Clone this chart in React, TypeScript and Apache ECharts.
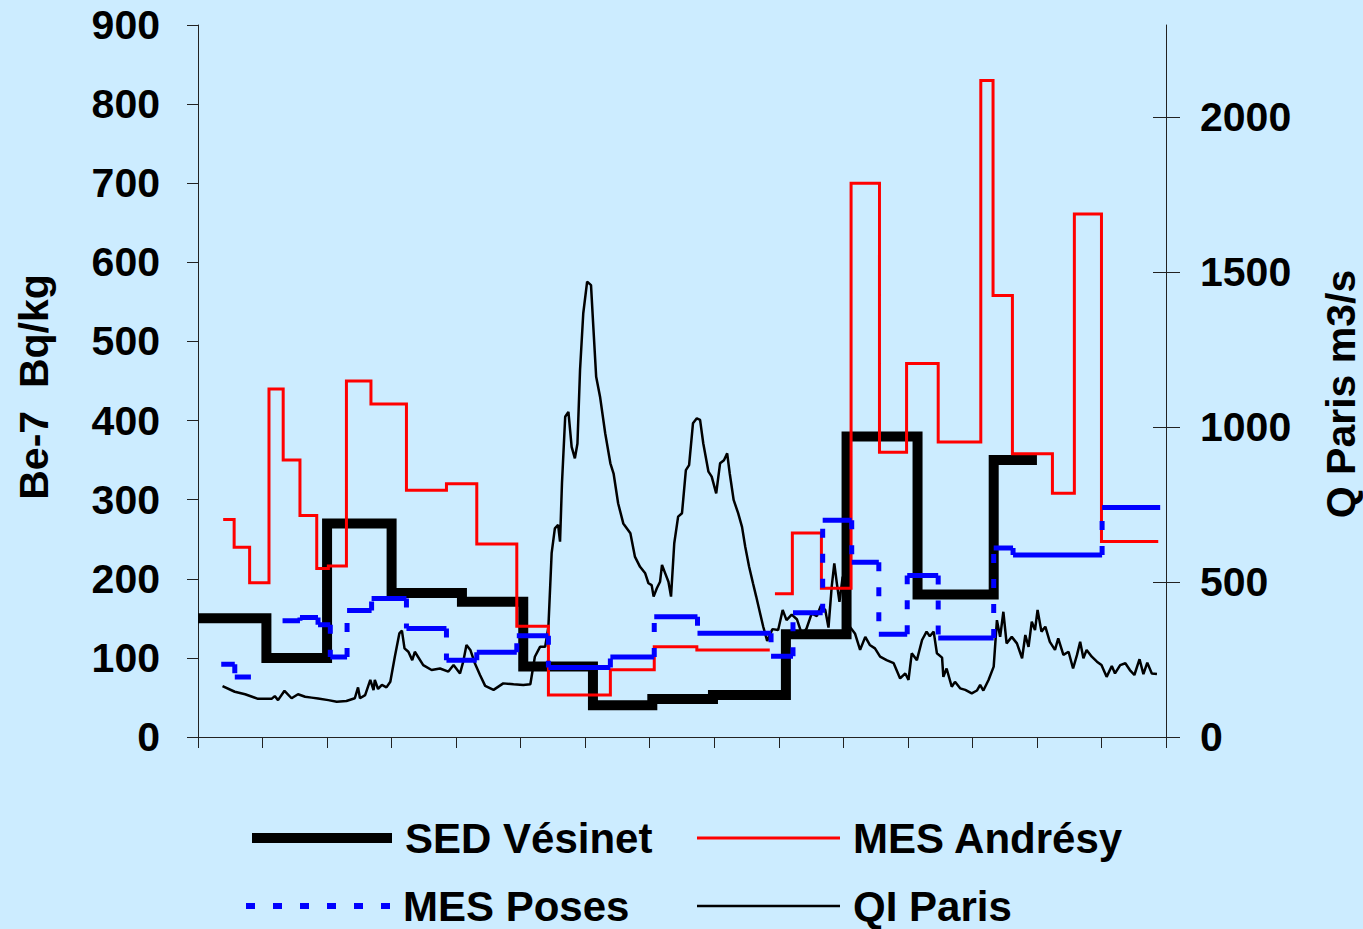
import React, { useEffect, useRef } from "react";
import * as echarts from "echarts";

// Steps: [start x (tick units), value]; value null = no line on that span / end.
const SED_VESINET: [number, number | null][] = [
  [0, 150], [1.06, 100], [2.0, 270], [3.0, 182], [4.09, 171], [5.04, 89],
  [6.12, 40], [7.04, 48], [7.98, 53], [9.11, 130], [10.05, 380], [11.15, 180],
  [12.33, 350], [13.0, null],
];

const MES_ANDRESY: [number, number | null][] = [
  [0.39, 275], [0.56, 240], [0.8, 195], [1.1, 440], [1.32, 350], [1.58, 280],
  [1.84, 213], [2.02, 216], [2.3, 450], [2.68, 421], [3.23, 312], [3.85, 320],
  [4.32, 244], [4.94, 140], [5.43, 53], [6.39, 85], [7.07, 114], [7.73, 110],
  [8.86, null], [8.94, 181], [9.21, 258], [9.66, 188], [10.12, 700], [10.56, 360],
  [10.98, 472], [11.47, 373], [12.13, 830], [12.32, 558], [12.62, 358], [13.24, 308],
  [13.58, 661], [14.0, 247], [14.88, null],
];

const MES_POSES: [number, number | null][] = [
  [0.36, 92], [0.57, 76], [0.82, null], [1.31, 147], [1.58, 151], [1.86, 142],
  [2.05, 101], [2.31, 160], [2.69, 175], [3.23, 137], [3.85, 97], [4.32, 107],
  [4.94, 128], [5.43, 88], [6.39, 101], [7.07, 152], [7.74, 131], [8.88, 102],
  [9.22, 157], [9.68, 274], [10.13, 221], [10.55, 130], [10.99, 204], [11.47, 125],
  [12.33, 239], [12.63, 230], [14.01, 290], [14.91, null],
];

const QI_PARIS: [number, number][] = [
  [0.38, 164], [0.57, 146], [0.73, 138], [0.93, 123], [1.14, 123], [1.19, 132], [1.24, 119],
  [1.34, 149], [1.45, 125], [1.55, 138], [1.66, 130], [1.76, 127], [1.86, 124], [2.02, 119],
  [2.15, 114], [2.3, 116], [2.43, 125], [2.48, 160], [2.51, 125], [2.59, 135], [2.67, 184],
  [2.72, 151], [2.74, 184], [2.79, 155], [2.85, 168], [2.92, 160], [2.98, 178], [3.05, 259],
  [3.12, 334], [3.16, 343], [3.2, 286], [3.26, 275], [3.32, 248], [3.36, 275], [3.49, 232],
  [3.62, 216], [3.75, 221], [3.88, 211], [3.96, 232], [4.06, 205], [4.11, 243], [4.16, 297],
  [4.22, 281], [4.29, 238], [4.37, 200], [4.45, 165], [4.58, 152], [4.73, 173], [4.89, 170],
  [5.04, 168], [5.15, 170], [5.22, 259], [5.3, 291], [5.38, 291], [5.43, 356], [5.48, 593],
  [5.53, 673], [5.58, 684], [5.61, 630], [5.64, 818], [5.69, 1033], [5.74, 1049], [5.79, 936],
  [5.84, 899], [5.88, 947], [5.92, 1184], [5.97, 1367], [6.03, 1469], [6.09, 1458], [6.12, 1345],
  [6.17, 1162], [6.23, 1098], [6.31, 980], [6.39, 883], [6.44, 850], [6.51, 754], [6.59, 689],
  [6.7, 657], [6.77, 582], [6.85, 549], [6.93, 528], [6.98, 496], [7.03, 490], [7.06, 453],
  [7.11, 480], [7.16, 501], [7.19, 555], [7.24, 528], [7.29, 501], [7.33, 453], [7.38, 625],
  [7.44, 711], [7.5, 722], [7.56, 861], [7.61, 877], [7.67, 1012], [7.73, 1028], [7.78, 1023],
  [7.83, 947], [7.91, 856], [7.96, 840], [8.03, 786], [8.09, 883], [8.15, 893], [8.2, 915],
  [8.24, 850], [8.3, 765], [8.37, 722], [8.43, 678], [8.48, 614], [8.54, 549], [8.6, 496],
  [8.65, 453], [8.71, 399], [8.76, 355], [8.82, 310], [8.9, 348], [8.99, 345], [9.06, 410],
  [9.12, 377], [9.2, 395], [9.28, 380], [9.36, 330], [9.43, 350], [9.51, 399], [9.59, 390],
  [9.65, 423], [9.72, 410], [9.77, 353], [9.82, 485], [9.86, 560], [9.9, 495], [9.94, 436],
  [9.99, 517], [10.04, 440], [10.1, 356], [10.18, 334], [10.26, 281], [10.34, 323], [10.41, 297],
  [10.49, 286], [10.57, 259], [10.67, 248], [10.78, 238], [10.88, 189], [10.96, 205], [11.01, 184],
  [11.06, 270], [11.14, 248], [11.22, 313], [11.29, 340], [11.34, 325], [11.4, 340], [11.45, 270],
  [11.53, 256], [11.55, 194], [11.6, 221], [11.68, 162], [11.73, 178], [11.81, 157], [11.89, 152],
  [11.99, 141], [12.07, 150], [12.12, 168], [12.17, 150], [12.25, 184], [12.33, 227], [12.38, 377],
  [12.43, 323], [12.48, 404], [12.53, 302], [12.61, 323], [12.69, 302], [12.77, 254], [12.82, 329],
  [12.87, 291], [12.92, 372], [12.97, 345], [13.01, 410], [13.07, 340], [13.13, 356], [13.2, 307],
  [13.28, 281], [13.33, 318], [13.41, 265], [13.49, 275], [13.56, 221], [13.62, 264], [13.67, 307],
  [13.72, 254], [13.77, 281], [13.85, 259], [13.93, 243], [14.0, 232], [14.08, 194], [14.16, 229],
  [14.21, 205], [14.29, 232], [14.37, 238], [14.44, 216], [14.51, 200], [14.59, 251], [14.65, 203],
  [14.71, 240], [14.78, 205], [14.86, 203],
];

const LEFT_TICKS = { min: 0, max: 900, interval: 100 };
const RIGHT_TICK_VALUES = [0, 500, 1000, 1500, 2000];
const RIGHT_MAX = 2297;
const X_TICKS = { min: 0, max: 15, interval: 1 };

const NAMES = {
  sed: "SED Vésinet",
  andresy: "MES Andrésy",
  poses: "MES Poses",
  qi: "QI Paris",
  left: "Be-7\u00a0 Bq/kg",
  right: "Q Paris m3/s",
};

type Step = [number, number | null];

function stepPath(steps: Step[]) {
  const out: any[] = [];
  for (let i = 0; i < steps.length - 1; i++) {
    const [x, v] = steps[i];
    const xn = steps[i + 1][0];
    if (v === null) {
      out.push([x, "-"]);
      continue;
    }
    out.push([x, v], [xn, v]);
  }
  return out;
}

function treads(steps: Step[]) {
  const out: any[] = [];
  for (let i = 0; i < steps.length - 1; i++) {
    const [x, v] = steps[i];
    const xn = steps[i + 1][0];
    if (v === null) continue;
    out.push([x, v], [xn, v], [xn, "-"]);
  }
  return out;
}

function risers(steps: Step[]) {
  const out: any[] = [];
  for (let i = 1; i < steps.length; i++) {
    const a = steps[i - 1][1];
    const b = steps[i][1];
    if (a === null || b === null) continue;
    const x = steps[i][0];
    out.push([x, a], [x, b], [x, "-"]);
  }
  return out;
}

const FONT = "'Liberation Sans', Arial, sans-serif";
const DASH_ICON =
  "path://M0,0h9v6h-9z M27,0h9v6h-9z M54,0h9v6h-9z M81,0h9v6h-9z M108,0h9v6h-9z M135,0h9v6h-9z";

export default function App() {
  const ref = useRef<HTMLDivElement>(null);

  useEffect(() => {
    if (!ref.current) return;
    const chart = echarts.init(ref.current, undefined, { renderer: "svg" });
    const axisLabelStyle = {
      fontFamily: FONT,
      fontWeight: "bold" as const,
      fontSize: 41,
      color: "#000",
    };
    const legendText = {
      fontFamily: FONT,
      fontWeight: "bold" as const,
      fontSize: 42,
      lineHeight: 42,
      color: "#000",
      padding: [0, 0, 0, 8],
    };
    const legendCommon = {
      orient: "horizontal" as const,
      selectedMode: false,
      textStyle: legendText,
      padding: 0,
    };
    chart.setOption({
      animation: false,
      backgroundColor: "#CCECFF",
      grid: { left: 198, right: 197, top: 25, bottom: 192, containLabel: false },
      xAxis: {
        type: "value",
        min: X_TICKS.min,
        max: X_TICKS.max,
        interval: X_TICKS.interval,
        axisLine: { show: true, lineStyle: { color: "#222", width: 1 } },
        axisTick: { show: true, length: 11, lineStyle: { color: "#222", width: 1 } },
        axisLabel: { show: false },
        splitLine: { show: false },
      },
      yAxis: [
        {
          type: "value",
          position: "left",
          min: LEFT_TICKS.min,
          max: LEFT_TICKS.max,
          interval: LEFT_TICKS.interval,
          axisLine: { show: true, lineStyle: { color: "#222", width: 1 } },
          axisTick: { show: true, length: 11, lineStyle: { color: "#222", width: 1 } },
          axisLabel: { ...axisLabelStyle, margin: 38, formatter: (v: number) => String(v) },
          splitLine: { show: false },
        },
        {
          type: "value",
          position: "right",
          min: 0,
          max: RIGHT_MAX,
          axisLine: { show: true, lineStyle: { color: "#222", width: 1 } },
          axisTick: {
            show: true,
            length: 14,
            customValues: RIGHT_TICK_VALUES,
            lineStyle: { color: "#222", width: 1 },
          },
          axisLabel: {
            ...axisLabelStyle,
            margin: 34,
            customValues: RIGHT_TICK_VALUES,
            formatter: (v: number) => String(v),
          },
          splitLine: { show: false },
        },
        {
          type: "value",
          position: "right",
          min: 0,
          max: RIGHT_MAX,
          axisLine: { show: false },
          axisTick: {
            show: true,
            inside: true,
            length: 13,
            customValues: RIGHT_TICK_VALUES,
            lineStyle: { color: "#222", width: 1 },
          },
          axisLabel: { show: false },
          splitLine: { show: false },
        },
      ],
      legend: [
        {
          ...legendCommon,
          data: [{ name: NAMES.sed, icon: "rect" }],
          left: 252,
          top: 817,
          itemWidth: 140,
          itemHeight: 10,
        },
        {
          ...legendCommon,
          data: [{ name: NAMES.andresy, icon: "rect" }],
          left: 697,
          top: 817,
          itemWidth: 143,
          itemHeight: 3,
        },
        {
          ...legendCommon,
          data: [{ name: NAMES.poses, icon: DASH_ICON }],
          left: 246,
          top: 885,
          itemWidth: 144,
          itemHeight: 6,
        },
        {
          ...legendCommon,
          data: [{ name: NAMES.qi, icon: "rect" }],
          left: 697,
          top: 885,
          itemWidth: 143,
          itemHeight: 2.5,
        },
      ],
      graphic: [
        {
          type: "text",
          x: 34,
          y: 387,
          rotation: Math.PI / 2,
          style: {
            text: NAMES.left,
            fontFamily: FONT,
            fontWeight: "bold",
            fontSize: 41,
            fill: "#000",
            align: "center",
            verticalAlign: "middle",
          },
        },
        {
          type: "text",
          x: 1341,
          y: 394,
          rotation: Math.PI / 2,
          style: {
            text: NAMES.right,
            fontFamily: FONT,
            fontWeight: "bold",
            fontSize: 41,
            fill: "#000",
            align: "center",
            verticalAlign: "middle",
          },
        },
      ],
      series: [
        {
          name: NAMES.sed,
          type: "line",
          yAxisIndex: 0,
          data: stepPath(SED_VESINET),
          symbol: "none",
          connectNulls: false,
          lineStyle: { color: "#000", width: 10, join: "miter", cap: "butt" },
          itemStyle: { color: "#000" },
          z: 2,
        },
        {
          name: NAMES.qi,
          type: "line",
          yAxisIndex: 1,
          data: QI_PARIS,
          symbol: "none",
          lineStyle: { color: "#000", width: 2.5 },
          itemStyle: { color: "#000" },
          z: 3,
        },
        {
          name: NAMES.andresy,
          type: "line",
          yAxisIndex: 0,
          data: stepPath(MES_ANDRESY),
          symbol: "none",
          connectNulls: false,
          lineStyle: { color: "#FF0000", width: 3, join: "miter" },
          itemStyle: { color: "#FF0000" },
          z: 4,
        },
        {
          name: "poses-treads",
          type: "line",
          yAxisIndex: 0,
          data: treads(MES_POSES),
          symbol: "none",
          connectNulls: false,
          lineStyle: { color: "#0000FF", width: 5, cap: "butt" },
          itemStyle: { color: "#0000FF" },
          z: 5,
        },
        {
          name: NAMES.poses,
          type: "line",
          yAxisIndex: 0,
          data: risers(MES_POSES),
          symbol: "none",
          connectNulls: false,
          lineStyle: { color: "#0000FF", width: 5, type: [9, 16], cap: "butt" },
          itemStyle: { color: "#0000FF" },
          z: 5,
        },
      ],
    });
    return () => chart.dispose();
  }, []);

  return (
    <div
      ref={ref}
      style={{ position: "fixed", left: 0, top: 0, width: 1363, height: 929 }}
    />
  );
}
